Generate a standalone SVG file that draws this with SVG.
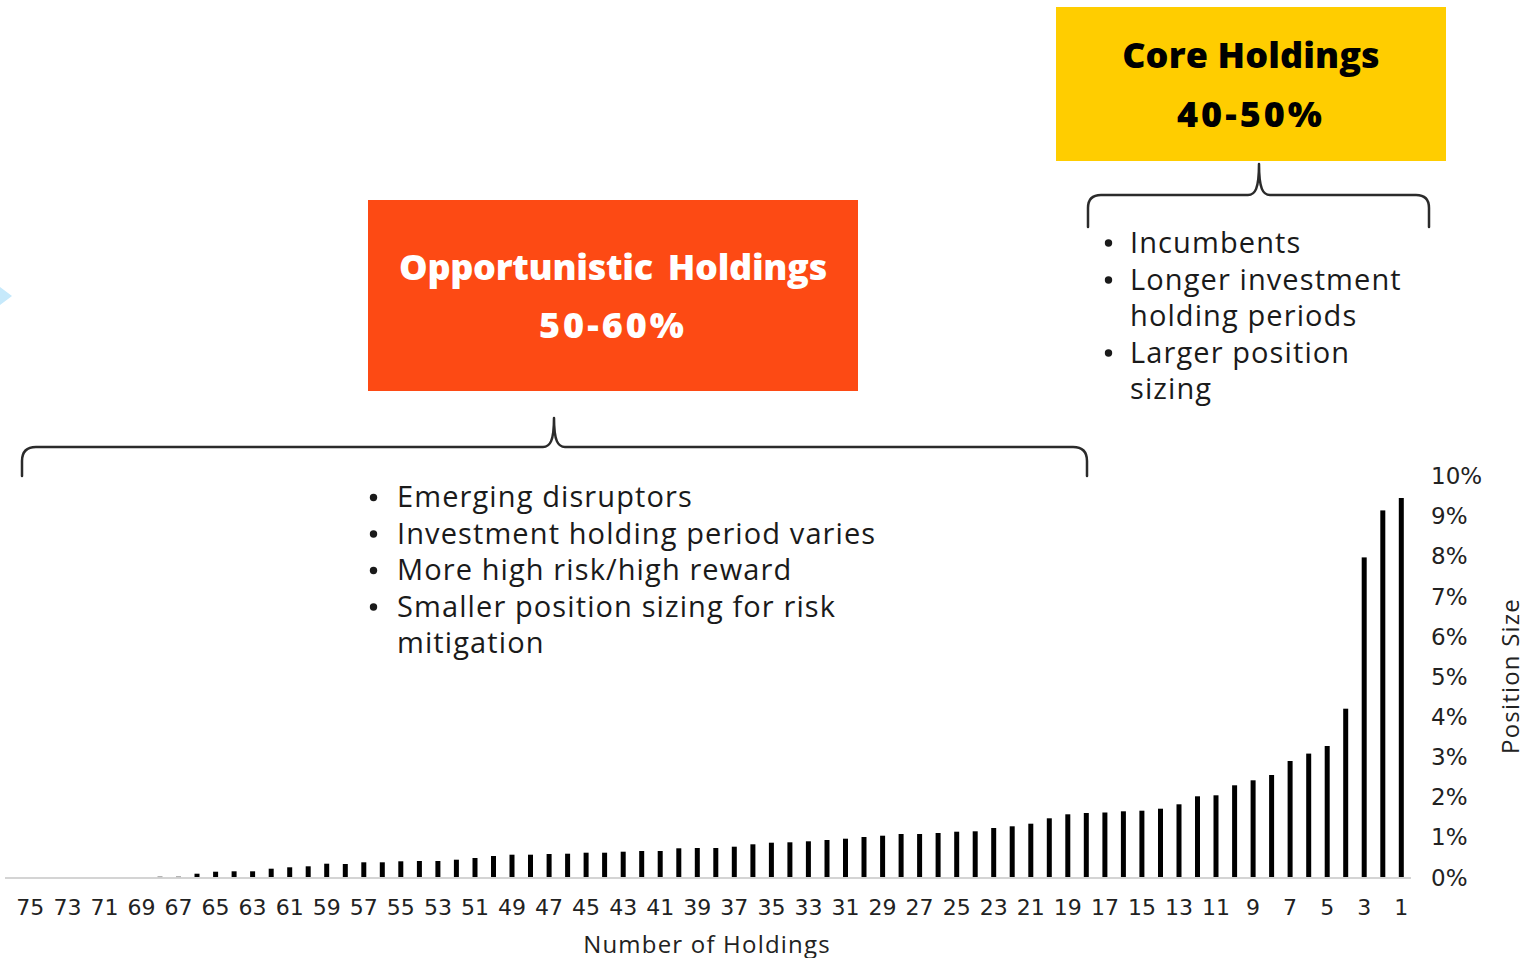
<svg xmlns="http://www.w3.org/2000/svg" width="1537" height="958" viewBox="0 0 1537 958">
<style>
.title{font-family:"Open Sans","Noto Sans",sans-serif;font-weight:800;font-size:36px;text-anchor:middle}
.bul{font-family:"Open Sans","Noto Sans",sans-serif;font-size:29px;fill:#1a1a1a;letter-spacing:1.1px}
.dot{fill:#1a1a1a}
.xl{font-family:"DejaVu Sans",sans-serif;font-size:22px;fill:#222;text-anchor:middle}
.yl{font-family:"DejaVu Sans",sans-serif;font-size:23px;fill:#222}
.ax{font-family:"Open Sans","Noto Sans",sans-serif;font-size:24px;fill:#222;text-anchor:middle;letter-spacing:1.2px}
.brace{fill:none;stroke:#2b2b2b;stroke-width:2.5;stroke-linejoin:round;stroke-linecap:round}
.bar{fill:#000}
</style>
<rect width="1537" height="958" fill="#fff"/>
<polygon points="0,287 12,296 0,305" fill="#C6E9FB"/>

<g id="core-holdings">
<rect x="1056" y="7" width="390" height="154" fill="#FFCD00"/>
<text class="title" x="1251" y="68" fill="#000" letter-spacing="0.1">Core Holdings</text>
<text class="title" x="1251" y="127" fill="#000" letter-spacing="3">40-50%</text>
</g>

<g id="opportunistic-holdings">
<rect x="368" y="200" width="490" height="191" fill="#FD4A14"/>
<text class="title" x="613" y="280" fill="#fff" letter-spacing="-0.3" word-spacing="6">Opportunistic Holdings</text>
<text class="title" x="613" y="338" fill="#fff" letter-spacing="3">50-60%</text>
</g>

<g id="connectors">
<path class="brace" d="M22,476 L22,461 Q22,447 36,447 L543,447 C550,447 554,441 554,418 C554,441 558,447 565,447 L1073,447 Q1087,447 1087,461 L1087,476"/>
<path class="brace" d="M1088,227 L1088,208 Q1088,195 1101,195 L1248,195 C1255,195 1259,189 1259,164 C1259,189 1263,195 1270,195 L1416,195 Q1429,195 1429,208 L1429,227"/>
</g>

<g id="core-bullets">
<circle class="dot" cx="1108.5" cy="243" r="3.7"/>
<circle class="dot" cx="1108.5" cy="280" r="3.7"/>
<circle class="dot" cx="1108.5" cy="353" r="3.7"/>
<text class="bul"><tspan x="1130" y="253">Incumbents</tspan><tspan x="1130" y="290">Longer investment</tspan><tspan x="1130" y="326">holding periods</tspan><tspan x="1130" y="363">Larger position</tspan><tspan x="1130" y="399">sizing</tspan></text>
</g>

<g id="opportunistic-bullets">
<circle class="dot" cx="373.5" cy="497.5" r="3.7"/>
<circle class="dot" cx="373.5" cy="534" r="3.7"/>
<circle class="dot" cx="373.5" cy="570.5" r="3.7"/>
<circle class="dot" cx="373.5" cy="607" r="3.7"/>
<text class="bul"><tspan x="397" y="507">Emerging disruptors</tspan><tspan x="397" y="543.5">Investment holding period varies</tspan><tspan x="397" y="580">More high risk/high reward</tspan><tspan x="397" y="616.5">Smaller position sizing for risk</tspan><tspan x="397" y="653">mitigation</tspan></text>
</g>

<g id="chart">
<line x1="5" y1="878" x2="1411" y2="878" stroke="#d4d4d4" stroke-width="2"/>
<g id="bars">
<rect class="bar" x="1398.8" y="498" width="5" height="379"/>
<rect class="bar" x="1380.3" y="510.4" width="5" height="366.6"/>
<rect class="bar" x="1361.7" y="557.4" width="5" height="319.6"/>
<rect class="bar" x="1343.2" y="708.7" width="5" height="168.3"/>
<rect class="bar" x="1324.7" y="746" width="5" height="131"/>
<rect class="bar" x="1306.2" y="753.6" width="5" height="123.4"/>
<rect class="bar" x="1287.6" y="761" width="5" height="116"/>
<rect class="bar" x="1269.1" y="775" width="5" height="102"/>
<rect class="bar" x="1250.6" y="780.3" width="5" height="96.7"/>
<rect class="bar" x="1232.1" y="785.3" width="5" height="91.7"/>
<rect class="bar" x="1213.5" y="795.3" width="5" height="81.7"/>
<rect class="bar" x="1195.0" y="796.3" width="5" height="80.7"/>
<rect class="bar" x="1176.5" y="804.3" width="5" height="72.7"/>
<rect class="bar" x="1158.0" y="808.7" width="5" height="68.3"/>
<rect class="bar" x="1139.4" y="810.7" width="5" height="66.3"/>
<rect class="bar" x="1120.9" y="811.3" width="5" height="65.7"/>
<rect class="bar" x="1102.4" y="812.5" width="5" height="64.5"/>
<rect class="bar" x="1083.8" y="813" width="5" height="64"/>
<rect class="bar" x="1065.3" y="814.3" width="5" height="62.7"/>
<rect class="bar" x="1046.8" y="818.3" width="5" height="58.7"/>
<rect class="bar" x="1028.3" y="823.7" width="5" height="53.3"/>
<rect class="bar" x="1009.7" y="826.3" width="5" height="50.7"/>
<rect class="bar" x="991.2" y="828" width="5" height="49"/>
<rect class="bar" x="972.7" y="831.3" width="5" height="45.7"/>
<rect class="bar" x="954.2" y="831.7" width="5" height="45.3"/>
<rect class="bar" x="935.6" y="833" width="5" height="44"/>
<rect class="bar" x="917.1" y="834" width="5" height="43"/>
<rect class="bar" x="898.6" y="834" width="5" height="43"/>
<rect class="bar" x="880.1" y="835.7" width="5" height="41.3"/>
<rect class="bar" x="861.5" y="837" width="5" height="40"/>
<rect class="bar" x="843.0" y="838.7" width="5" height="38.3"/>
<rect class="bar" x="824.5" y="840" width="5" height="37"/>
<rect class="bar" x="805.9" y="841.3" width="5" height="35.7"/>
<rect class="bar" x="787.4" y="842.3" width="5" height="34.7"/>
<rect class="bar" x="768.9" y="842.7" width="5" height="34.3"/>
<rect class="bar" x="750.4" y="844.3" width="5" height="32.7"/>
<rect class="bar" x="731.8" y="846.7" width="5" height="30.3"/>
<rect class="bar" x="713.3" y="848" width="5" height="29"/>
<rect class="bar" x="694.8" y="848" width="5" height="29"/>
<rect class="bar" x="676.3" y="848.3" width="5" height="28.7"/>
<rect class="bar" x="657.7" y="851" width="5" height="26"/>
<rect class="bar" x="639.2" y="851" width="5" height="26"/>
<rect class="bar" x="620.7" y="851.7" width="5" height="25.3"/>
<rect class="bar" x="602.1" y="852.7" width="5" height="24.3"/>
<rect class="bar" x="583.6" y="852.7" width="5" height="24.3"/>
<rect class="bar" x="565.1" y="853.7" width="5" height="23.3"/>
<rect class="bar" x="546.6" y="854" width="5" height="23"/>
<rect class="bar" x="528.0" y="854.7" width="5" height="22.3"/>
<rect class="bar" x="509.5" y="854.7" width="5" height="22.3"/>
<rect class="bar" x="491.0" y="856" width="5" height="21"/>
<rect class="bar" x="472.5" y="858" width="5" height="19"/>
<rect class="bar" x="453.9" y="859.7" width="5" height="17.3"/>
<rect class="bar" x="435.4" y="861" width="5" height="16"/>
<rect class="bar" x="416.9" y="861" width="5" height="16"/>
<rect class="bar" x="398.3" y="861.3" width="5" height="15.7"/>
<rect class="bar" x="379.8" y="862.3" width="5" height="14.7"/>
<rect class="bar" x="361.3" y="862.3" width="5" height="14.7"/>
<rect class="bar" x="342.8" y="864" width="5" height="13"/>
<rect class="bar" x="324.2" y="863.7" width="5" height="13.3"/>
<rect class="bar" x="305.7" y="866.3" width="5" height="10.7"/>
<rect class="bar" x="287.2" y="867.3" width="5" height="9.7"/>
<rect class="bar" x="268.7" y="868.7" width="5" height="8.3"/>
<rect class="bar" x="250.1" y="871.3" width="5" height="5.7"/>
<rect class="bar" x="231.6" y="871.3" width="5" height="5.7"/>
<rect class="bar" x="213.1" y="871.7" width="5" height="5.3"/>
<rect class="bar" x="194.5" y="873.7" width="5" height="3.3"/>
<rect x="176.0" y="876" width="5" height="1.2" fill="#b5b5b5"/>
<rect x="157.5" y="876" width="5" height="1.2" fill="#b5b5b5"/>
</g>
<g id="x-labels">
<text class="xl" x="30.3" y="914.5">75</text>
<text class="xl" x="67.4" y="914.5">73</text>
<text class="xl" x="104.4" y="914.5">71</text>
<text class="xl" x="141.5" y="914.5">69</text>
<text class="xl" x="178.5" y="914.5">67</text>
<text class="xl" x="215.6" y="914.5">65</text>
<text class="xl" x="252.6" y="914.5">63</text>
<text class="xl" x="289.7" y="914.5">61</text>
<text class="xl" x="326.7" y="914.5">59</text>
<text class="xl" x="363.8" y="914.5">57</text>
<text class="xl" x="400.8" y="914.5">55</text>
<text class="xl" x="437.9" y="914.5">53</text>
<text class="xl" x="475.0" y="914.5">51</text>
<text class="xl" x="512.0" y="914.5">49</text>
<text class="xl" x="549.1" y="914.5">47</text>
<text class="xl" x="586.1" y="914.5">45</text>
<text class="xl" x="623.2" y="914.5">43</text>
<text class="xl" x="660.2" y="914.5">41</text>
<text class="xl" x="697.3" y="914.5">39</text>
<text class="xl" x="734.3" y="914.5">37</text>
<text class="xl" x="771.4" y="914.5">35</text>
<text class="xl" x="808.4" y="914.5">33</text>
<text class="xl" x="845.5" y="914.5">31</text>
<text class="xl" x="882.6" y="914.5">29</text>
<text class="xl" x="919.6" y="914.5">27</text>
<text class="xl" x="956.7" y="914.5">25</text>
<text class="xl" x="993.7" y="914.5">23</text>
<text class="xl" x="1030.8" y="914.5">21</text>
<text class="xl" x="1067.8" y="914.5">19</text>
<text class="xl" x="1104.9" y="914.5">17</text>
<text class="xl" x="1141.9" y="914.5">15</text>
<text class="xl" x="1179.0" y="914.5">13</text>
<text class="xl" x="1216.0" y="914.5">11</text>
<text class="xl" x="1253.1" y="914.5">9</text>
<text class="xl" x="1290.1" y="914.5">7</text>
<text class="xl" x="1327.2" y="914.5">5</text>
<text class="xl" x="1364.2" y="914.5">3</text>
<text class="xl" x="1401.3" y="914.5">1</text>
</g>
<g id="y-labels">
<text class="yl" x="1431" y="484">10%</text>
<text class="yl" x="1431" y="524.2">9%</text>
<text class="yl" x="1431" y="564.3">8%</text>
<text class="yl" x="1431" y="604.5">7%</text>
<text class="yl" x="1431" y="644.6">6%</text>
<text class="yl" x="1431" y="684.8">5%</text>
<text class="yl" x="1431" y="724.9">4%</text>
<text class="yl" x="1431" y="765.1">3%</text>
<text class="yl" x="1431" y="805.2">2%</text>
<text class="yl" x="1431" y="845.4">1%</text>
<text class="yl" x="1431" y="885.8">0%</text>
</g>
<text class="ax" x="707" y="953">Number of Holdings</text>
<text class="ax" x="0" y="0" transform="translate(1519,676) rotate(-90)" letter-spacing="0">Position Size</text>
</g>
</svg>
